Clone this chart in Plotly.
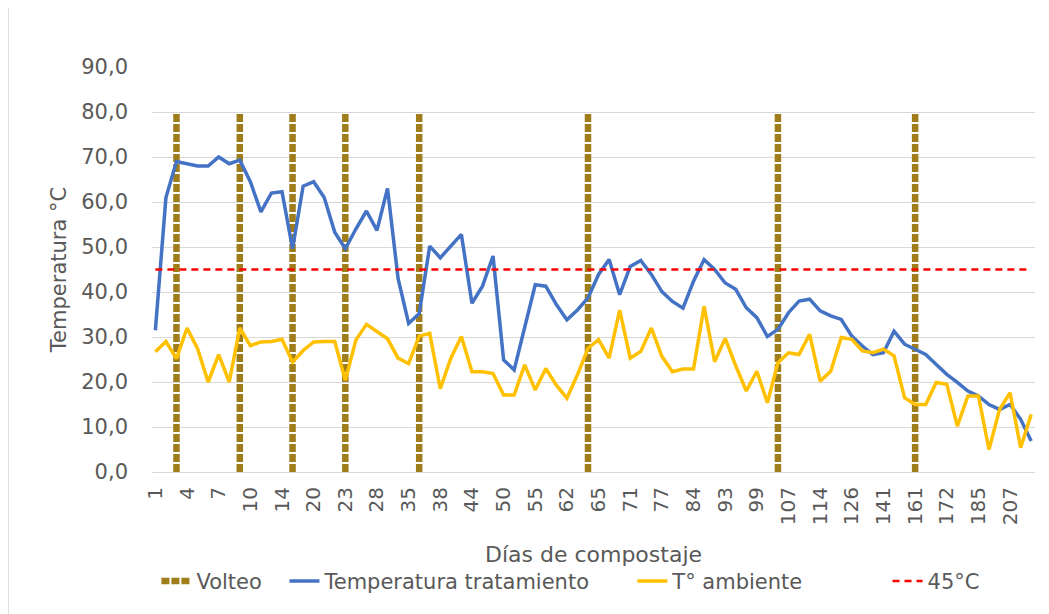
import plotly.graph_objects as go

# ---------------- data ----------------
DAYS = [1, 2, 3, 4, 5, 6, 7, 8, 9, 10, 11, 12, 14, 16, 18, 20, 21, 22, 23, 25,
        27, 28, 30, 33, 35, 36, 37, 38, 40, 42, 44, 46, 48, 50, 52, 53, 55, 57,
        59, 62, 63, 64, 65, 67, 69, 71, 73, 75, 77, 79, 81, 84, 87, 90, 93, 95,
        97, 99, 101, 104, 107, 109, 112, 114, 118, 122, 126, 131, 136, 141, 148,
        155, 161, 165, 169, 172, 176, 181, 185, 192, 200, 207, 214, 221]

TICK_LABELS = ["1", "4", "7", "10", "14", "20", "23", "28", "35", "38", "44",
               "50", "55", "62", "65", "71", "77", "84", "93", "99", "107",
               "114", "126", "141", "161", "172", "185", "207"]

TEMP_TRATAMIENTO = [31.5, 61, 69, 68.5, 68, 68, 70, 68.5, 69.3, 64.5,
                    57.8, 62, 62.3, 49.6, 63.5, 64.5, 61, 53.3, 49.6, 54,
                    58, 53.7, 63, 43, 33, 35.2, 50.2, 47.6, 50.2, 52.8,
                    37.5, 41.3, 48, 24.9, 22.7, 32, 41.6, 41.3, 37.2, 33.8,
                    36, 38.7, 43.9, 47.2, 39.4, 45.7, 47, 43.9, 40.1, 37.9,
                    36.4, 42.4, 47.2, 45, 42, 40.6, 36.5, 34.3, 30.1, 31.7,
                    35.4, 38, 38.4, 35.8, 34.7, 33.9, 30.2, 28, 26.1, 26.5,
                    31.3, 28.4, 27.3, 26.1, 23.9, 21.7, 19.9, 18, 16.9, 15,
                    13.9, 15, 11.7, 6.9]

T_AMBIENTE = [26.7, 29, 25.2, 32, 27.4, 20, 26.1, 20, 32, 28.1,
              28.9, 29, 29.5, 24.4, 27, 28.9, 29, 29, 20.4, 29.3,
              32.8, 31.1, 29.6, 25.3, 24.1, 30.2, 30.8, 18.5, 25.3, 30.1,
              22.3, 22.3, 21.9, 17.1, 17.1, 23.8, 18.2, 23, 19.3, 16.4,
              21.6, 27.5, 29.4, 25.3, 36, 25.3, 26.8, 32, 25.7, 22.3,
              22.9, 22.9, 36.8, 24.5, 29.7, 23.6, 18, 22.4, 15.4, 24.3,
              26.5, 26.1, 30.6, 20.2, 22.4, 29.9, 29.5, 26.9, 26.5, 27.3,
              25.8, 16.5, 15, 15, 19.9, 19.5, 10.2, 16.9, 16.9, 5,
              13.9, 17.6, 5.4, 12.8]

VOLTEO_DAYS = [3, 9, 16, 23, 36, 64, 104, 161]
VOLTEO_HEIGHT = 80
UMBRAL = 45

Y_TICKS = [0, 10, 20, 30, 40, 50, 60, 70, 80, 90]

# ---------------- build ----------------
cats = [str(d) for d in DAYS]

vx, vy = [], []
for d in VOLTEO_DAYS:
    vx += [str(d), str(d), None]
    vy += [0, VOLTEO_HEIGHT, None]

TXT = "#595959"
FONT = "DejaVu Sans, Liberation Sans, Arial, sans-serif"

fig = go.Figure()
fig.add_trace(go.Scatter(
    x=vx, y=vy, mode="lines", name="Volteo", legend="legend",
    line=dict(color="#9E7D1A", width=6.5, dash="8px,2px"),
    connectgaps=False,
))
fig.add_trace(go.Scatter(
    x=cats, y=TEMP_TRATAMIENTO, mode="lines", name="Temperatura tratamiento",
    legend="legend2",
    line=dict(color="#4472C4", width=3.5),
))
fig.add_trace(go.Scatter(
    x=cats, y=T_AMBIENTE, mode="lines", name="T° ambiente", legend="legend3",
    line=dict(color="#FFC000", width=3.5),
))
fig.add_trace(go.Scatter(
    x=cats, y=[UMBRAL] * len(cats), mode="lines", name="45°C", legend="legend4",
    line=dict(color="#FF0000", width=2.5, dash="7px,5px"),
))


def leg(xpos):
    return dict(orientation="h", x=xpos, xanchor="left", y=-0.27, yanchor="middle",
                font=dict(size=21, color=TXT), bgcolor="rgba(0,0,0,0)")


fig.update_layout(
    width=1049, height=614,
    margin=dict(l=144, r=22, t=59, b=150, autoexpand=False),
    paper_bgcolor="white", plot_bgcolor="white",
    separators=", ",
    font=dict(family=FONT, color=TXT, size=21),
    showlegend=True,
    legend=leg(0.005),
    legend2=leg(0.150),
    legend3=leg(0.544),
    legend4=leg(0.833),
    shapes=[dict(type="line", xref="paper", yref="paper",
                 x0=-0.163, x1=-0.163, y0=-0.38, y1=1.17,
                 line=dict(color="#D9D9D9", width=1.5))],
)

fig.update_xaxes(
    type="category", categoryorder="array", categoryarray=cats,
    range=[-0.32, 83.36],
    tickmode="array", tickvals=TICK_LABELS, ticktext=TICK_LABELS,
    tickangle=-90, tickfont=dict(size=20, color=TXT),
    showgrid=False, showline=True, linecolor="#D9D9D9", linewidth=1,
    ticks="", ticklabelstandoff=6,
    title=dict(text="Días de compostaje", font=dict(size=22, color=TXT), standoff=22),
    automargin=False,
)
fig.update_yaxes(
    range=[0, 90], tickmode="array", tickvals=Y_TICKS, tickformat=".1f",
    tickfont=dict(size=21, color=TXT),
    showgrid=True, gridcolor="#D9D9D9", gridwidth=1, zeroline=False,
    ticks="", ticklabelstandoff=23,
    title=dict(text="Temperatura °C", font=dict(size=21, color=TXT), standoff=8),
    automargin=False,
)

fig.write_html("out.html")
